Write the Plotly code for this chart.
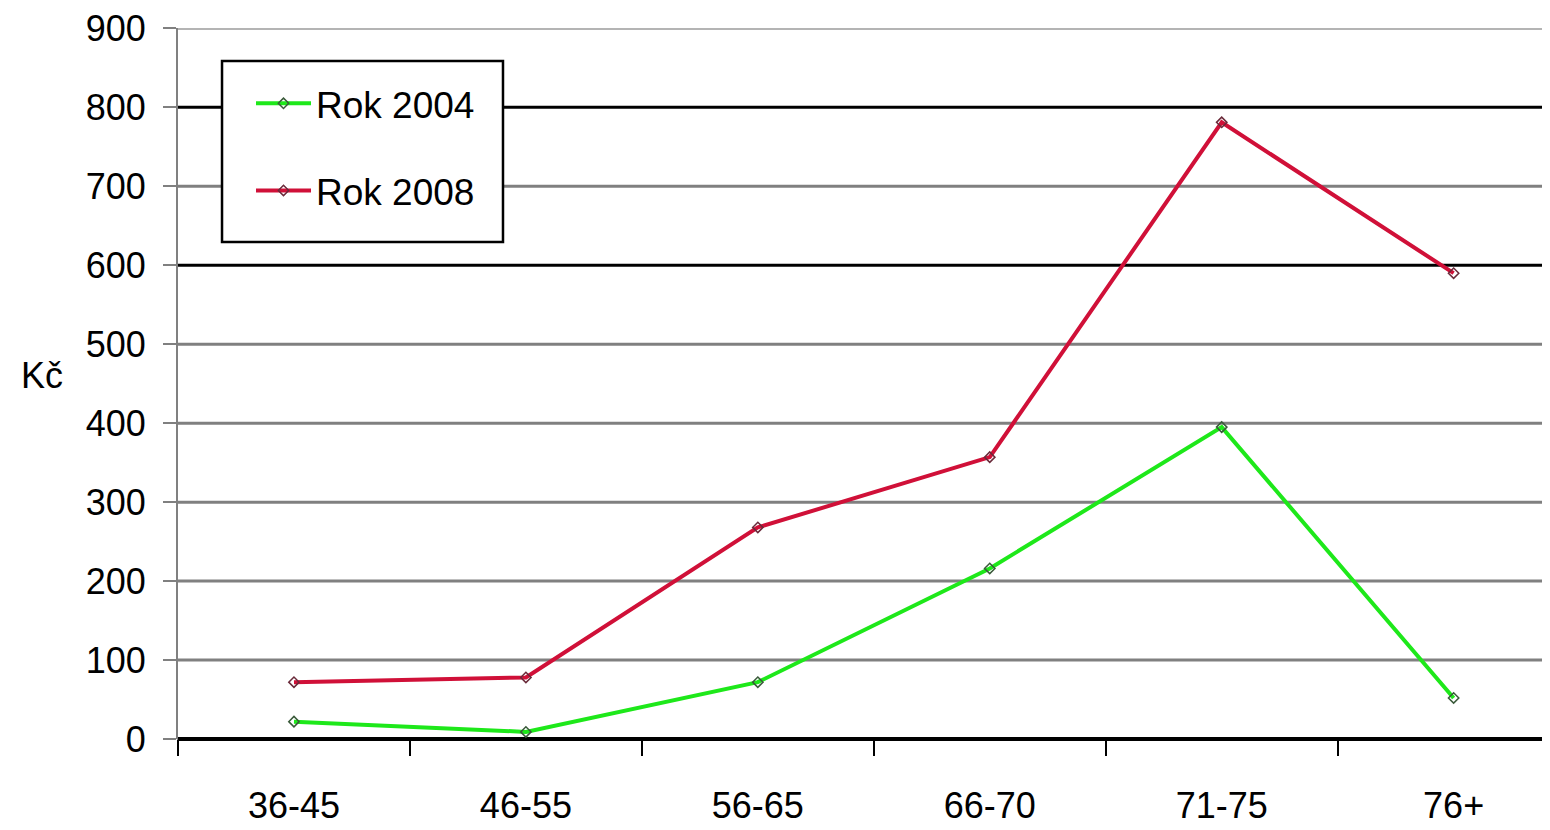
import plotly.graph_objects as go

categories = ["36-45", "46-55", "56-65", "66-70", "71-75", "76+"]
rok_2004 = [22, 9, 72, 216, 395, 52]
rok_2008 = [72, 78, 268, 357, 781, 590]
y_ticks = [0, 100, 200, 300, 400, 500, 600, 700, 800, 900]
grid_colors = ["black", "#808080", "#808080", "#808080", "#808080", "#808080",
               "black", "#808080", "black", "#b4b4b4"]

FONT = "Liberation Sans Narrow, Arial Narrow, Liberation Sans, Arial, sans-serif"

fig = go.Figure()
fig.add_trace(go.Scatter(
    x=categories, y=rok_2004, name="Rok 2004", mode="lines+markers",
    line=dict(color="#1ee81a", width=4),
    marker=dict(symbol="diamond-open", size=8, color="#3a5a3a", line=dict(width=1.5)),
    legendgroup="a",
))
fig.add_trace(go.Scatter(
    x=categories, y=rok_2008, name="Rok 2008", mode="lines+markers",
    line=dict(color="#d01038", width=4),
    marker=dict(symbol="diamond-open", size=8, color="#6a2a3a", line=dict(width=1.5)),
    legendgroup="b",
))

# gridlines (drawn as shapes so individual colours can differ)
for v, c in zip(y_ticks[1:], grid_colors[1:]):
    fig.add_shape(type="line", xref="paper", yref="y", x0=0, x1=1, y0=v, y1=v,
                  line=dict(color=c, width=3), layer="below")
# y-axis line stub extending below the baseline
fig.add_shape(type="line", xref="paper", yref="paper", x0=0, x1=0, y0=-0.022, y1=0,
              line=dict(color="#808080", width=2), layer="below")
# legend frame
fig.add_shape(type="rect", xref="paper", yref="paper", x0=0.0319, x1=0.2355,
              y0=0.699, y1=0.9536, line=dict(color="black", width=2.5),
              fillcolor="white", layer="below")

fig.add_annotation(text="Kč", xref="paper", yref="y", x=-0.0986, y=461,
                   showarrow=False, font=dict(family=FONT, size=36, color="black"),
                   xanchor="center", yanchor="middle")

fig.update_layout(
    width=1550, height=830,
    margin=dict(l=170, r=0, t=20, b=99),
    paper_bgcolor="white", plot_bgcolor="white",
    font=dict(family=FONT, size=36, color="black"),
    showlegend=True,
    legend=dict(
        x=0.0529, y=0.937, xanchor="left", yanchor="top",
        borderwidth=0, bgcolor="rgba(0,0,0,0)",
        font=dict(family=FONT, size=37, color="black"),
        traceorder="grouped", tracegroupgap=36,
        itemwidth=55,
    ),
    xaxis=dict(
        type="category", categoryorder="array", categoryarray=categories,
        range=[-0.5, 5.45], automargin=False,
        showgrid=False, showline=False, zeroline=False,
        ticks="outside", tickson="boundaries", ticklen=16, tickwidth=2, tickcolor="black",
        ticklabelstandoff=42,
        tickfont=dict(family=FONT, size=36, color="black"),
    ),
    yaxis=dict(
        range=[0, 900.5], tickmode="array", tickvals=y_ticks,
        ticktext=[str(v) for v in y_ticks], automargin=False,
        ticklabeloverflow="allow",
        showgrid=False,
        zeroline=True, zerolinecolor="black", zerolinewidth=4,
        showline=True, linecolor="#808080", linewidth=2,
        ticks="outside", ticklen=13, tickwidth=2, tickcolor="#808080",
        ticklabelstandoff=10,
        tickfont=dict(family=FONT, size=36, color="black"),
    ),
)

fig.write_html("out.html")
